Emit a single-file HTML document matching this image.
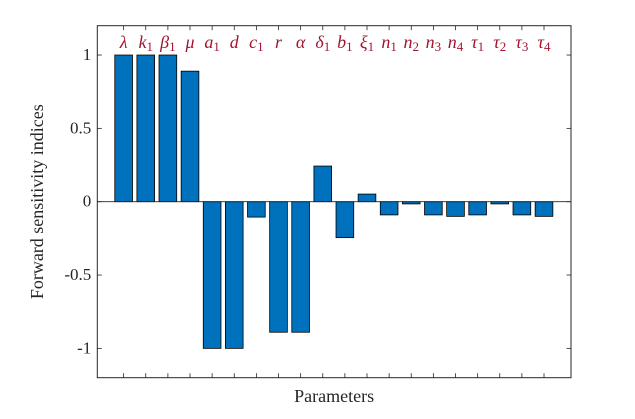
<!DOCTYPE html>
<html><head><meta charset="utf-8"><style>
body{margin:0;background:#fff;}
svg text{font-family:"Liberation Serif","DejaVu Serif",serif;}
</style></head><body>
<svg id="chart" width="635" height="414" xmlns="http://www.w3.org/2000/svg"></svg>
<script>
const categories=["λ","k1","β1","μ","a1","d","c1","r","α","δ1","b1","ξ1","n1","n2","n3","n4","τ1","τ2","τ3","τ4"];
const values=[1,1,1,0.89,-1,-1,-0.105,-0.89,-0.89,0.243,-0.245,0.052,-0.09,-0.015,-0.09,-0.1,-0.09,-0.015,-0.09,-0.1];
const yTicks=[-1,-0.5,0,0.5,1];
const yTickLabels=["-1","-0.5","0","0.5","1"];
const NS="http://www.w3.org/2000/svg";
const svg=document.getElementById('chart');
const L=97.3,R=571,T=25.7,B=377.7;
const yMin=-1.2,yMax=1.2,xMin=-0.19,xMax=21.22;
const xs=v=>L+(v-xMin)/(xMax-xMin)*(R-L);
const ys=v=>B-(v-yMin)/(yMax-yMin)*(B-T);
function mk(tag,attrs,parent){const e=document.createElementNS(NS,tag);for(const k in attrs)e.setAttribute(k,attrs[k]);(parent||svg).appendChild(e);return e;}
const frame=mk('rect',{x:L,y:T,width:R-L,height:B-T,fill:'none',stroke:'#262626','stroke-width':1});


const bw=(xs(1)-xs(0))*0.8;
values.forEach((v,i)=>{
  const c=xs(i+1);
  const y0=ys(Math.max(v,0)),y1=ys(Math.min(v,0));
  const b=mk('rect',{x:c-bw/2,y:y0,width:bw,height:Math.max(y1-y0,1),fill:'#0072bd',stroke:'#000','stroke-width':0.8});
  
  
  const tb=mk('line',{x1:c,x2:c,y1:B,y2:B-4.5,stroke:'#262626','stroke-width':0.8});
  
  
  const tt=mk('line',{x1:c,x2:c,y1:T,y2:T+4.5,stroke:'#262626','stroke-width':0.8});
  
  
  const name=categories[i];
  const t=mk('text',{x:c,y:48,'text-anchor':'middle','font-size':18,'font-style':'italic',fill:'#a2142f'});
  
  
  const base=name[0],sub=name.slice(1);
  t.appendChild(document.createTextNode(base));
  if(sub){const s=mk('tspan',{'font-size':13,'font-style':'normal',dy:3},t);s.textContent=sub;}
});
const zl=mk('line',{x1:L,x2:R,y1:ys(0),y2:ys(0),stroke:'#262626','stroke-width':0.8});


yTicks.forEach((v,i)=>{
  const y=ys(v);
  const a=mk('line',{x1:L,x2:L+4.5,y1:y,y2:y,stroke:'#262626','stroke-width':0.8});
  
  
  const b=mk('line',{x1:R,x2:R-4.5,y1:y,y2:y,stroke:'#262626','stroke-width':0.8});
  
  
  const t=mk('text',{x:L-6,y:y+5,'text-anchor':'end','font-size':17,fill:'#262626'});
  
  
  t.textContent=yTickLabels[i];
});
const xt=mk('text',{x:(L+R)/2,y:402,'text-anchor':'middle','font-size':18,fill:'#262626'});


xt.textContent='Parameters';
const yt=mk('text',{x:0,y:0,'text-anchor':'middle','font-size':18,fill:'#262626',transform:'translate(43,'+((T+B)/2)+') rotate(-90)'});


yt.textContent='Forward sensitivity indices';
</script>
</body></html>
